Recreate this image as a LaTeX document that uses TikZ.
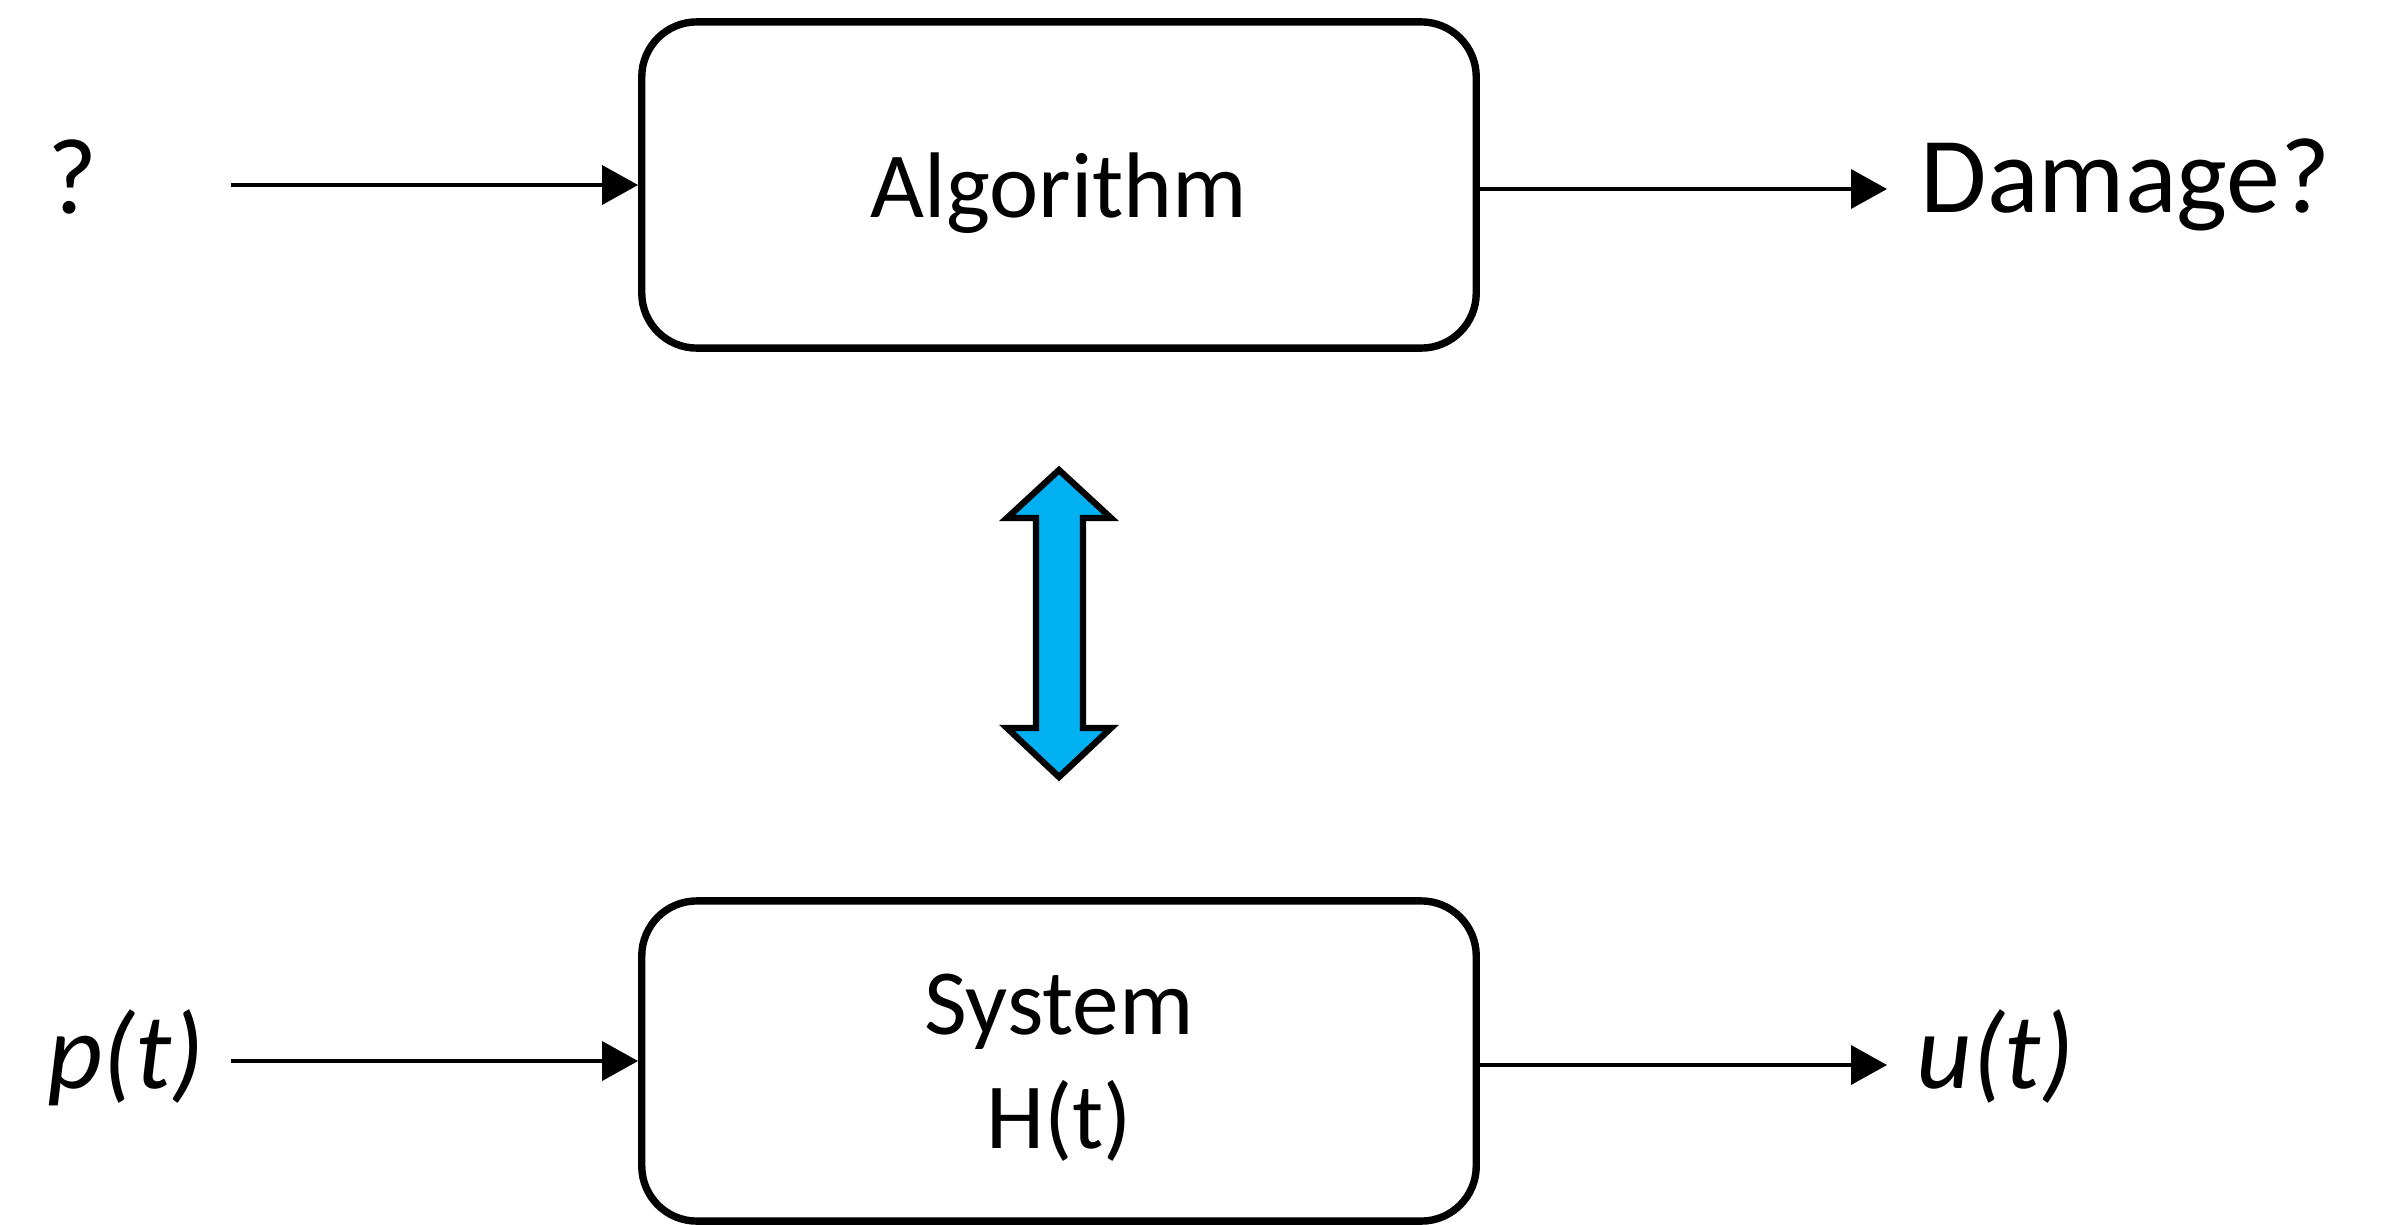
\documentclass[tikz,border=0pt]{standalone}
\usepackage{fontspec}
\setmainfont{Carlito}
\usetikzlibrary{arrows.meta}
\definecolor{arrowblue}{HTML}{00B0F0}
\begin{document}
\begin{tikzpicture}[x=0.01cm,y=-0.01cm,
  blockbox/.style={draw=black, line width=2.1pt, rounded corners=0.55cm, fill=white,
    minimum width=8.34cm, inner sep=0pt,
    font=\fontsize{26.5}{32.2}\selectfont},
  conn/.style={line width=1.1pt, -{Triangle[length=0.36cm,width=0.39cm]}},
  lbl/.style={font=\fontsize{30.7}{36}\selectfont, inner sep=0pt},
  bigarrow/.style={draw=black, line width=1.8pt, fill=arrowblue, line join=miter}]
\useasboundingbox (0,0) rectangle (2388,1224);
% blocks
\node[blockbox, minimum height=3.26cm, text height=22pt, text depth=3.8pt] (alg) at (1059,185) {Algorithm};
\node[blockbox, minimum height=3.20cm, align=center, text height=55pt, text depth=5.5pt] (sys) at (1059,1061) {System\\H(t)};
% labels
\node[lbl, anchor=base] (q) at (73,213) {?};
\node[lbl, anchor=base west] (dmg) at (1920,212) {Damage?};
\node[lbl, anchor=base east] (p) at (205,1088) {\itshape p(t)};
\node[lbl, anchor=base west] (u) at (1916,1088) {\itshape u(t)};
% connectors
\coordinate (qin) at (231,185);
\coordinate (dout) at (1887,189);
\coordinate (pin) at (231,1061);
\coordinate (uout) at (1887,1065);
\draw[conn] (qin) -- (alg.west);
\draw[conn] (alg.east |- dout) -- (dout);
\draw[conn] (pin) -- (sys.west);
\draw[conn] (sys.east |- uout) -- (uout);
% double arrow
\path[bigarrow] (1059,470) -- (1111,518) -- (1083,518) -- (1083,728) -- (1111,728)
  -- (1059,777) -- (1007,728) -- (1036,728) -- (1036,518) -- (1007,518) -- cycle;
\end{tikzpicture}
\end{document}
